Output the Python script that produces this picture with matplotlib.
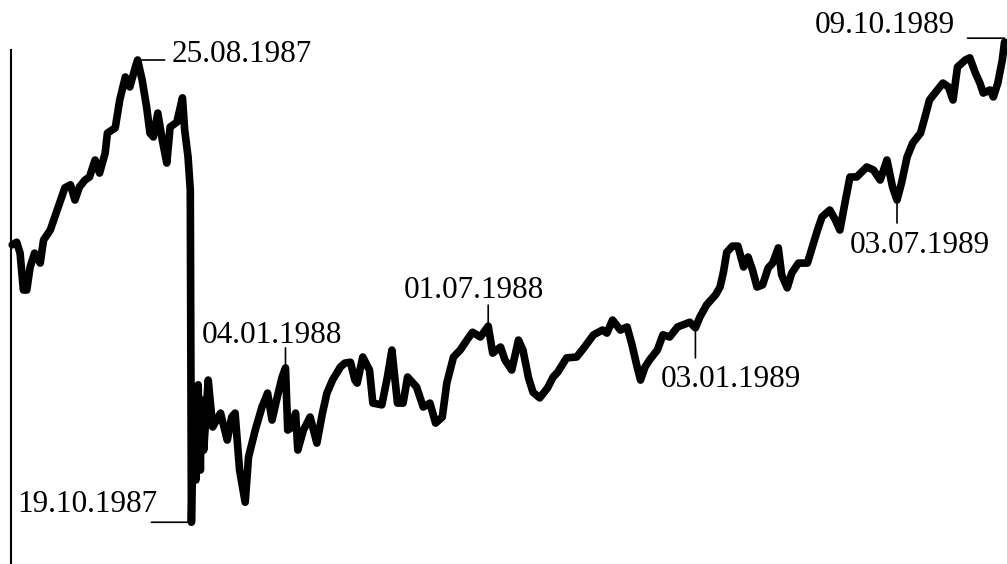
import matplotlib
matplotlib.use("Agg")
import matplotlib.pyplot as plt
from matplotlib.transforms import ScaledTranslation

# Day offset (calendar days from the start of the plotted period) and index level
days = [2, 6, 9, 12, 15, 18, 22, 27, 30, 36, 40, 43, 49, 54, 58, 62, 67, 71, 76, 80,
        85, 87, 94, 98, 103, 107, 112, 114, 118, 122, 125, 128, 132, 136, 140, 143, 149, 154, 156, 159,
        161, 162, 164, 166, 168, 170, 171, 173, 177, 181, 188, 194, 198, 201, 205, 210, 213, 219, 225, 230,
        234, 238, 243, 246, 248, 252, 255, 257, 262, 268, 274, 279, 283, 288, 295, 299, 304, 308, 310, 315,
        321, 324, 332, 337, 341, 346, 351, 355, 363, 369, 375, 380, 386, 390, 396, 402, 408, 413, 420, 427,
        431, 438, 442, 448, 454, 458, 463, 467, 473, 480, 485, 489, 497, 506, 513, 521, 529, 533, 538, 545,
        551, 555, 560, 563, 567, 571, 578, 583, 589, 596, 601, 607, 612, 616, 622, 630, 634, 637, 640, 645,
        650, 655, 659, 663, 667, 672, 677, 681, 686, 689, 694, 698, 704, 712, 717, 721, 725, 732, 737, 741,
        746, 750, 756, 765, 771, 777, 783, 788, 792, 796, 801, 806, 813, 817, 821, 828, 833, 838, 842, 846,
        853, 857, 862, 866, 869, 875, 878, 882, 886, 888]

values = [2302, 2308, 2283, 2198, 2198, 2251, 2283, 2260, 2313, 2336, 2366, 2389, 2433, 2440, 2405, 2435, 2451, 2458, 2497, 2467,
          2513, 2559, 2571, 2635, 2688, 2665, 2711, 2727, 2681, 2619, 2559, 2550, 2605, 2543, 2490, 2573, 2584, 2640, 2566, 2504,
          2428, 1664, 1945, 1761, 1980, 1784, 1945, 1830, 1991, 1883, 1915, 1853, 1906, 1915, 1784, 1710, 1814, 1876, 1929, 1961,
          1899, 1945, 1998, 2019, 1876, 1883, 1915, 1830, 1876, 1906, 1846, 1915, 1961, 1991, 2021, 2030, 2032, 1991, 1984, 2044,
          2014, 1938, 1934, 1998, 2060, 1938, 1938, 1998, 1975, 1929, 1938, 1892, 1906, 1984, 2044, 2060, 2083, 2101, 2090, 2115,
          2053, 2067, 2037, 2014, 2083, 2060, 1996, 1963, 1950, 1973, 1998, 2009, 2042, 2044, 2067, 2095, 2106, 2099, 2129, 2106,
          2113, 2076, 2021, 1991, 2021, 2037, 2060, 2095, 2090, 2113, 2118, 2124, 2111, 2136, 2164, 2187, 2205, 2239, 2285, 2299,
          2299, 2251, 2274, 2244, 2205, 2210, 2249, 2260, 2295, 2233, 2203, 2237, 2260, 2260, 2302, 2336, 2366, 2382, 2359, 2336,
          2405, 2458, 2458, 2481, 2474, 2451, 2497, 2435, 2405, 2444, 2504, 2536, 2559, 2596, 2635, 2658, 2674, 2665, 2635, 2711,
          2727, 2732, 2697, 2674, 2651, 2658, 2642, 2674, 2727, 2768]

# Annotated dates and the index of the marked point in the series
labels = ["25.08.1987", "19.10.1987", "04.01.1988", "01.07.1988",
          "03.01.1989", "03.07.1989", "09.10.1989"]
label_idx = [27, 41, 63, 99, 132, 168, 189]

DPI = 100
PX = 72.0 / DPI  # points per pixel

fig = plt.figure(figsize=(10.07, 5.64), dpi=DPI)
ax = fig.add_axes([0, 0, 1, 1])
ax.set_facecolor("white")

ax.plot(days, values, color="black", lw=5.5, solid_joinstyle="round",
        solid_capstyle="round")

ax.set_xlim(-8.9, 890.2)
ax.set_ylim(1568, 2865)

for s in ["top", "right", "bottom"]:
    ax.spines[s].set_visible(False)
ax.spines["left"].set_position(("data", 0.9))
ax.spines["left"].set_linewidth(1.5)
ax.spines["left"].set_bounds(1568, 2750)
ax.set_xticks([])
ax.set_yticks([])

font = dict(family=["Liberation Serif", "DejaVu Serif"], size=22.5, color="black")

# leader start shift (px), leader length vector from its start (px),
# text offset from the marked point (px), horizontal alignment
layout = {
    "25.08.1987": ((0, 0), (27, 0), (34, -2), "left"),
    "19.10.1987": ((0, 0), (-40, 0), (-34, 10), "right"),
    "04.01.1988": ((0, 0), (0, 20), (-14, 25), "center"),
    "01.07.1988": ((0, 0), (0, 21), (-14, 28), "center"),
    "03.01.1989": ((0, -4), (0, -26), (-35, -59), "left"),
    "03.07.1989": ((0, 0), (0, -23), (-47, -53), "left"),
    "09.10.1989": ((0, 4), (-37, 0), (-50, 9), "right"),
}

for lab, i in zip(labels, label_idx):
    (sx, sy), (lx, ly), (tx, ty), ha = layout[lab]
    xy = (days[i], values[i])
    start_tr = ax.transData + ScaledTranslation(sx / DPI, sy / DPI, fig.dpi_scale_trans)
    ax.annotate("", xy=xy, xycoords=start_tr,
                xytext=(lx * PX, ly * PX), textcoords="offset points",
                arrowprops=dict(arrowstyle="-", lw=1.2, color="black",
                                shrinkA=0, shrinkB=0))
    ax.annotate(lab, xy=xy, xycoords="data",
                xytext=(tx * PX, ty * PX), textcoords="offset points",
                ha=ha, va="baseline", **font)

fig.savefig("out.png", dpi=DPI, facecolor="white")
